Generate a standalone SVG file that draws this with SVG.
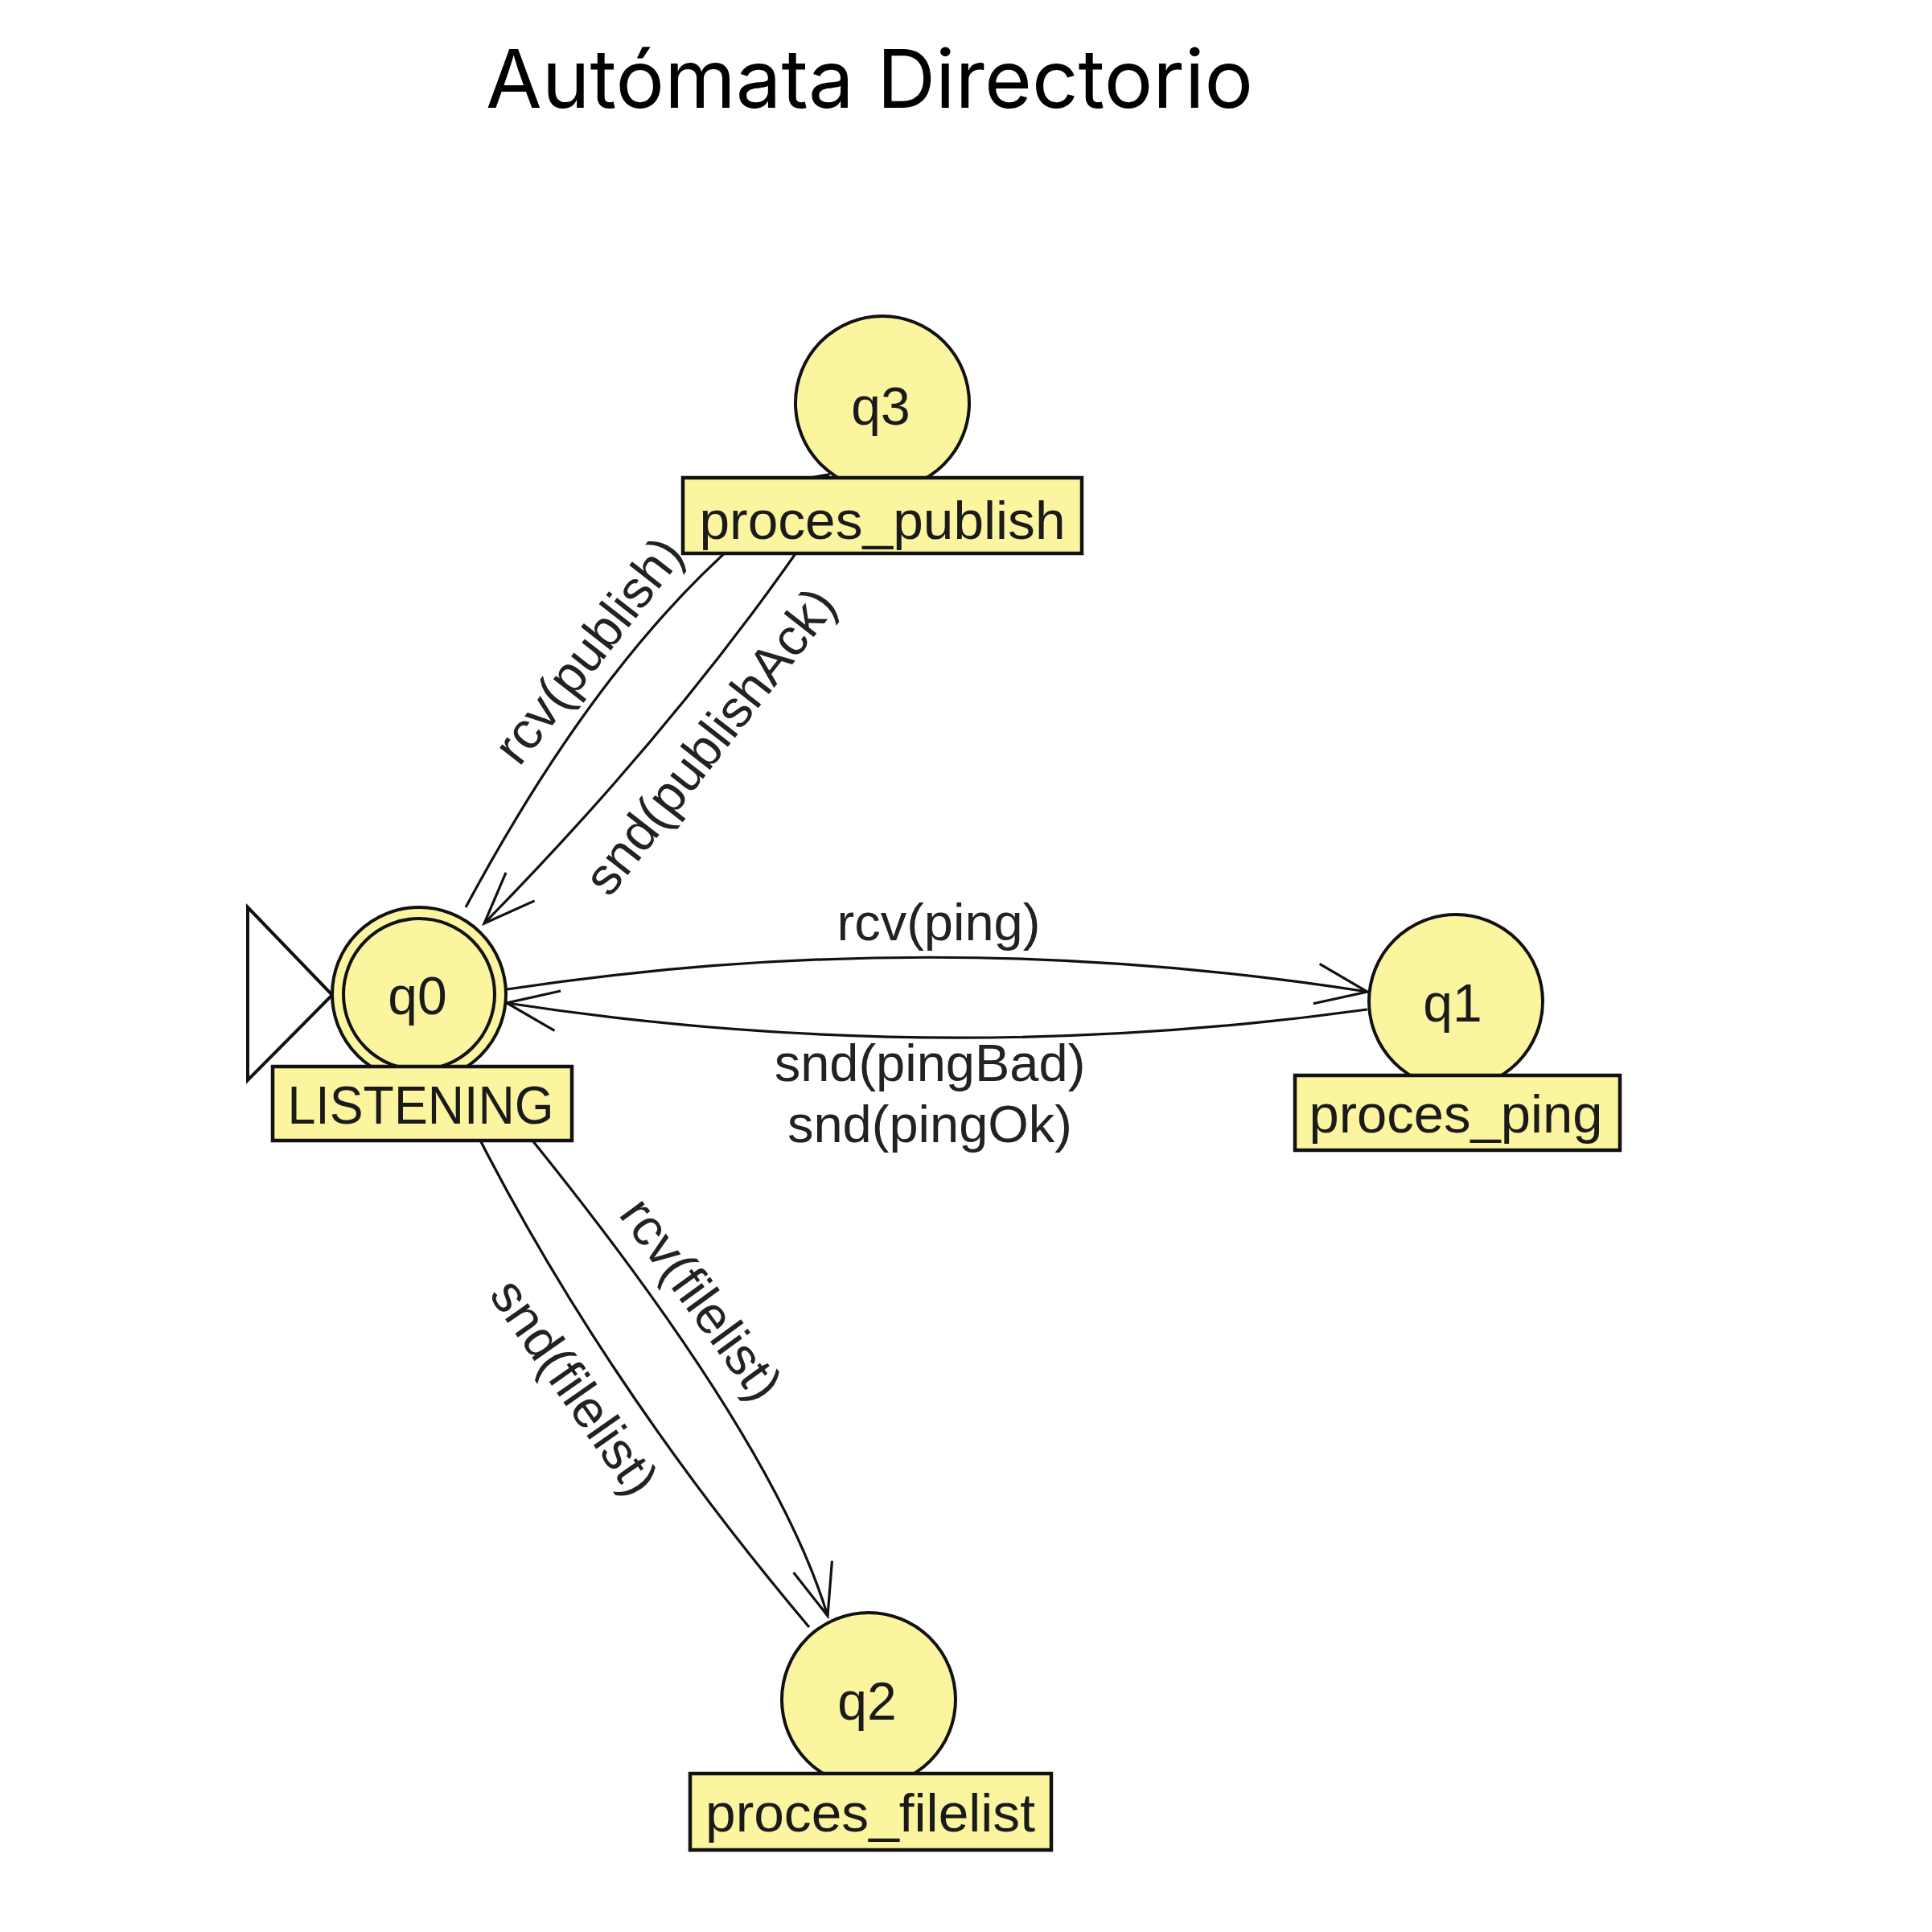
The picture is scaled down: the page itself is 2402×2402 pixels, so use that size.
<svg xmlns="http://www.w3.org/2000/svg" width="2402" height="2402" viewBox="0 0 2402 2402">
<style>
.st{fill:#faf59e;stroke:#111;stroke-width:4}
.lb{fill:#faf59e;stroke:#111;stroke-width:4.5}
.tx{font-family:"Liberation Sans",Arial,sans-serif;font-size:66px;fill:#1a1a1a;text-anchor:middle}
.el{font-family:"Liberation Sans",Arial,sans-serif;font-size:65px;fill:#222;text-anchor:middle}
.ed{fill:none;stroke:#111;stroke-width:3.2;marker-end:url(#ah)}
</style>
<defs>
<marker id="ah" markerUnits="userSpaceOnUse" markerWidth="90" markerHeight="70" viewBox="-80 -35 90 70" refX="0" refY="0" orient="auto">
<path d="M-64,-25 L0,0 L-64,25" fill="none" stroke="#111" stroke-width="3.2"/>
</marker>
</defs>
<rect width="2402" height="2402" fill="#fff"/>
<text x="1081" y="134" font-family="Inter, 'Open Sans', sans-serif" font-size="100" fill="#000" text-anchor="middle" textLength="954" lengthAdjust="spacingAndGlyphs">Autómata Directorio</text>
<g id="connectors">
<path id="e-rcv-publish" class="ed" d="M579,1128 Q790,735 1030,590"/>
<path id="e-snd-publishAck" class="ed" d="M1050,598 Q872,873 602,1148"/>
<path id="e-rcv-ping" class="ed" d="M630,1230 Q1165,1149 1700,1233"/>
<path id="e-snd-ping" class="ed" d="M1700,1255 Q1165,1329 630,1247"/>
<path id="e-rcv-filelist" class="ed" d="M588,1328 Q956,1767 1029,2009"/>
<path id="e-snd-filelist" class="ed" d="M1006,2023 Q725,1690 559,1341"/>
<text class="el" transform="translate(749,822) rotate(-52)">rcv(publish)</text>
<text class="el" transform="translate(900,935) rotate(-52)">snd(publishAck)</text>
<text class="el" x="1167" y="1169">rcv(ping)</text>
<text class="el" x="1156" y="1344">snd(pingBad)</text>
<text class="el" x="1156" y="1420">snd(pingOk)</text>
<text class="el" transform="translate(854,1628) rotate(54)">rcv(filelist)</text>
<text class="el" transform="translate(696,1737) rotate(55)">snd(filelist)</text>
</g>
<g id="start">
<polygon points="308,1128 413,1237 308,1343" fill="none" stroke="#111" stroke-width="4"/>
</g>
<g id="q3">
<circle class="st" cx="1097" cy="501" r="108"/>
<text class="tx" x="1095" y="528">q3</text>
<rect class="lb" x="849" y="594" width="496" height="94"/>
<text class="tx" x="1097" y="670" textLength="455" lengthAdjust="spacingAndGlyphs">proces_publish</text>
</g>
<g id="q0">
<circle class="st" cx="521" cy="1236" r="108"/>
<circle fill="none" stroke="#111" stroke-width="4" cx="521" cy="1236" r="94"/>
<text class="tx" x="519" y="1261">q0</text>
<rect class="lb" x="339" y="1326" width="372" height="92"/>
<text class="tx" x="523" y="1397" textLength="331" lengthAdjust="spacingAndGlyphs">LISTENING</text>
</g>
<g id="q1">
<circle class="st" cx="1810" cy="1245" r="108"/>
<text class="tx" x="1806" y="1270">q1</text>
<rect class="lb" x="1610" y="1337" width="404" height="93"/>
<text class="tx" x="1810" y="1408" textLength="365" lengthAdjust="spacingAndGlyphs">proces_ping</text>
</g>
<g id="q2">
<circle class="st" cx="1080" cy="2113" r="108"/>
<text class="tx" x="1078" y="2138">q2</text>
<rect class="lb" x="858" y="2205" width="449" height="95"/>
<text class="tx" x="1082" y="2277" textLength="410" lengthAdjust="spacingAndGlyphs">proces_filelist</text>
</g>
</svg>
